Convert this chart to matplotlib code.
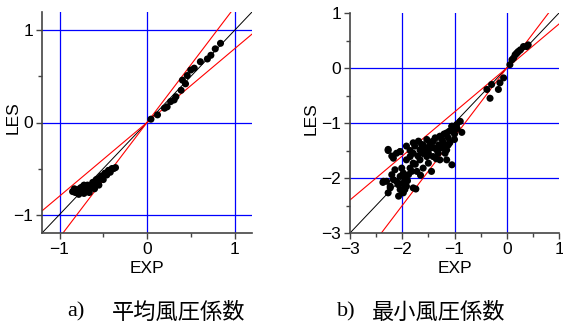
import numpy as np
import matplotlib
matplotlib.use('Agg')
import matplotlib.pyplot as plt

plt.rcParams['font.family'] = ['Liberation Sans', 'DejaVu Sans']

# a) mean pressure coefficient: EXP vs LES
mean_exp = [0.045, 0.12, 0.2, 0.23, 0.27, 0.31, 0.33, 0.39, 0.405, 0.44, 0.46, 0.5, 0.54,
            0.61, 0.69, 0.73, 0.78, 0.84,
            -0.85, -0.82, -0.8, -0.78, -0.76, -0.74, -0.72, -0.7, -0.68, -0.66, -0.64,
            -0.62, -0.6, -0.58, -0.56, -0.54, -0.52, -0.5, -0.48, -0.46, -0.44, -0.42,
            -0.4, -0.38, -0.36, -0.72, -0.76, -0.68, -0.6, -0.55, -0.83, -0.79, -0.66]
mean_les = [0.036, 0.083, 0.155, 0.17, 0.227, 0.245, 0.28, 0.35, 0.46, 0.42, 0.51, 0.57, 0.59,
            0.66, 0.69, 0.73, 0.8, 0.86,
            -0.75, -0.76, -0.73, -0.78, -0.74, -0.7, -0.77, -0.73, -0.68, -0.72, -0.7,
            -0.65, -0.68, -0.62, -0.66, -0.6, -0.58, -0.62, -0.55, -0.57, -0.52, -0.54,
            -0.5, -0.5, -0.49, -0.68, -0.71, -0.75, -0.72, -0.68, -0.72, -0.75, -0.76]

# b) minimum pressure coefficient
min_exp = [-2.27, -2.11, -2.04, -2.17, -1.92, -1.79, -1.69, -1.53, -1.41, -1.28, -1.15, -1.05,
           -1.02, -0.96, -1.21, -1.34, -1.47, -1.60, -1.66, -1.79, -1.85, -1.92, -1.98, -2.04,
           -2.11, -2.17, -2.23, -2.27, -2.04, -1.98, -1.92, -1.79, -2.08, -1.15, -1.21, -1.31,
           -1.41, -1.50, -1.60, -1.72, -1.66, -1.53, -1.79, -1.85, -1.76, -1.63, -1.47, -1.37,
           -1.24, -1.12, -1.09, -1.18, -1.28, -1.15, -1.82, -1.88, -1.95, -2.01, -2.14, -2.20,
           -2.30, -2.36,
           -2.37, -2.2, -2.23, -2.07, -2.04, -1.95, -1.74, -1.44, -1.05, -0.89, -0.86, -1.05, -2.27,
           -1.7, -1.55, -1.4, -1.3, -1.2, -1.1, -1.0, -0.95, -1.75, -1.65, -1.5, -1.35, -1.9,
           -2.0, -1.85, -1.6, -1.45, -1.25, -1.12, -1.0,
           -0.32, -0.38, -0.29, -0.16, -0.13, -0.06,
           0.06, 0.13, 0.19, 0.26, 0.38, 0.41, 0.32, 0.22, 0.1, 0.16]
min_les = [-1.50, -1.55, -1.52, -1.64, -1.42, -1.36, -1.33, -1.30, -1.33, -1.24, -1.18, -1.06,
           -1.12, -1.03, -1.36, -1.49, -1.46, -1.55, -1.67, -1.73, -1.82, -1.67, -1.91, -1.97,
           -2.06, -2.03, -2.15, -2.27, -2.21, -2.27, -2.15, -2.18, -2.12, -1.67, -1.42, -1.55,
           -1.61, -1.73, -1.82, -1.88, -1.49, -1.61, -1.55, -1.61, -1.42, -1.39, -1.36, -1.27,
           -1.30, -1.27, -1.36, -1.55, -1.67, -1.49, -1.88, -1.94, -2.00, -1.82, -1.85, -1.94,
           -2.06, -2.06,
           -2.08, -1.6, -2.18, -2.33, -1.52, -2.21, -2.2, -1.88, -1.76, -0.97, -1.17, -1.06, -1.48,
           -1.6, -1.45, -1.45, -1.4, -1.2, -1.15, -1.2, -1.1, -1.75, -1.95, -1.55, -1.65, -2.05,
           -2.1, -1.5, -1.4, -1.35, -1.45, -1.4, -1.3,
           -0.55, -0.39, -0.3, -0.39, -0.27, -0.18,
           0.06, 0.18, 0.27, 0.33, 0.39, 0.42, 0.39, 0.3, 0.15, 0.24]

ratios = [1.25, 0.8]


def panel(ax, xs, ys, lo, hi, grid_vals, major, minor):
    ax.set_xlim(lo, hi)
    ax.set_ylim(lo, hi)
    for g in grid_vals:
        ax.axvline(g, color='#0000ff', lw=0.9, zorder=1)
        ax.axhline(g, color='#0000ff', lw=0.9, zorder=1)
    line = np.array([lo, hi])
    ax.plot(line, line, color='black', lw=0.7, zorder=2)
    for r in ratios:
        ax.plot(line, r * line, color='#ff0000', lw=0.8, zorder=2)
    ax.scatter(xs, ys, s=26, color='black', edgecolors='none', zorder=3)
    ax.set_xticks(major)
    ax.set_yticks(major)
    ax.set_xticks(minor, minor=True)
    ax.set_yticks(minor, minor=True)
    ax.spines['top'].set_visible(False)
    ax.spines['right'].set_visible(False)
    for s in ['left', 'bottom']:
        ax.spines[s].set_color('#444444')
        ax.spines[s].set_linewidth(1.2)
    ax.tick_params(which='major', direction='out', length=4, width=1, colors='#444444',
                   labelcolor='black', labelsize=12.5, pad=2.5)
    ax.tick_params(which='minor', direction='out', length=3, width=1, colors='#444444')
    ax.set_xlabel('EXP', fontsize=12.5)
    ax.set_ylabel('LES', fontsize=12.5)


fig = plt.figure(figsize=(5.63, 3.29), dpi=100)
W, H = 563, 329
ax1 = fig.add_axes([42 / W, 1 - 233 / H, 210 / W, 221 / H])
ax2 = fig.add_axes([350 / W, 1 - 233 / H, 209 / W, 220 / H])

panel(ax1, mean_exp, mean_les, -1.2, 1.2, [-1, 0, 1], [-1, 0, 1], [-0.5, 0.5])
panel(ax2, min_exp, min_les, -3, 1, [-2, -1, 0], [-3, -2, -1, 0, 1],
      [-2.5, -1.5, -0.5, 0.5])

ax1.xaxis.set_label_coords(0.5, -(261 - 233) / 221)
ax2.xaxis.set_label_coords(0.5, -(261 - 233) / 220)
ax1.yaxis.set_label_coords((21 - 42) / 210, (233 - 118) / 221)
ax2.yaxis.set_label_coords((319 - 350) / 209, (233 - 119) / 220)

cjk = ['Noto Sans CJK JP', 'DejaVu Sans']
fig.text(76 / W, 1 - 312 / H, 'a)', family='Liberation Serif', fontsize=16,
         ha='center', va='center')
fig.text(112 / W, 1 - 312 / H, '平均風圧係数', family=cjk, fontsize=16,
         ha='left', va='center')
fig.text(346 / W, 1 - 312 / H, 'b)', family='Liberation Serif', fontsize=16,
         ha='center', va='center')
fig.text(372 / W, 1 - 312 / H, '最小風圧係数', family=cjk, fontsize=16,
         ha='left', va='center')

fig.savefig('out.png', dpi=100)
